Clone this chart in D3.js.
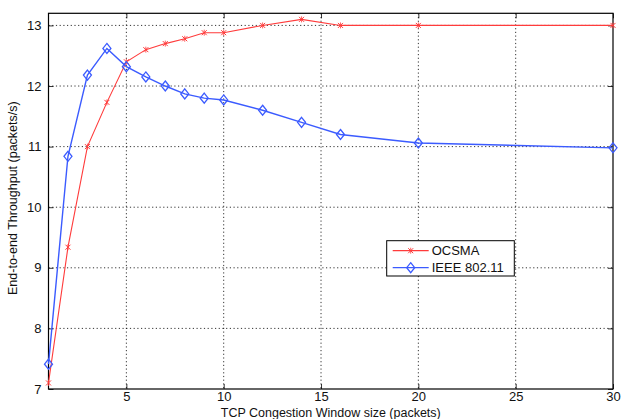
<!DOCTYPE html>
<html>
<head>
<meta charset="utf-8">
<script src="https://cdn.jsdelivr.net/npm/d3@7"></script>
<style>
  body { margin: 0; background: #fff; }
  text { font-family: "Liberation Sans", Arial, sans-serif; }
  .grid line { stroke: #000; stroke-width: 0.8; stroke-dasharray: 1.2 2.5; }
</style>
</head>
<body>
<div id="chart"></div>
<script>
// window sizes and throughput values
const windowSizes = [1, 2, 3, 4, 5, 6, 7, 8, 9, 10, 12, 14, 16, 20, 30];
const ocsma   = [7.1, 9.34, 11.0, 11.73, 12.4, 12.6, 12.7, 12.78, 12.88, 12.88, 13.0, 13.1, 13.0, 13.0, 13.0];
const ieee    = [7.41, 10.84, 12.18, 12.62, 12.32, 12.15, 12.0, 11.87, 11.8, 11.77, 11.6, 11.4, 11.2, 11.06, 10.98];
const xTicks  = [5, 10, 15, 20, 25, 30];
const yTicks  = [7, 8, 9, 10, 11, 12, 13];
const seriesNames  = ["OCSMA", "IEEE 802.11"];
const seriesColors = ["#ff3b3b", "#3b5bff"];

const W = 622, H = 419;
const MARGIN = { LEFT: 48.5, RIGHT: 9, TOP: 13.3, BOTTOM: 30 };
const PW = W - MARGIN.LEFT - MARGIN.RIGHT, PH = H - MARGIN.TOP - MARGIN.BOTTOM;

const svg = d3.select("#chart").append("svg")
  .attr("width", W).attr("height", H);
const g = svg.append("g")
  .attr("transform", `translate(${MARGIN.LEFT},${MARGIN.TOP})`);

const x = d3.scaleLinear().domain([1, 30]).range([0, PW]);
const y = d3.scaleLinear().domain([7, 13.2]).range([PH, 0]);

// grid
const grid = g.append("g").attr("class", "grid");
grid.selectAll(".gx").data(xTicks.filter(t => t < 30)).enter().append("line")
  .attr("x1", d => x(d)).attr("x2", d => x(d)).attr("y1", 0).attr("y2", PH);
grid.selectAll(".gy").data(yTicks.filter(t => t > 7)).enter().append("line")
  .attr("y1", d => y(d)).attr("y2", d => y(d)).attr("x1", 0).attr("x2", PW);

// axes, ticks pointing inward
const tick = 5;
const xAxis = g.append("g").attr("transform", `translate(0,${PH})`)
  .call(d3.axisBottom(x).tickValues(xTicks).tickFormat(d3.format("d"))
    .tickSizeInner(-tick).tickSizeOuter(0).tickPadding(3));
const yAxis = g.append("g")
  .call(d3.axisLeft(y).tickValues(yTicks).tickFormat(d3.format("d"))
    .tickSizeInner(-tick).tickSizeOuter(0).tickPadding(7));
g.append("g")
  .call(d3.axisTop(x).tickValues(xTicks).tickSizeInner(-tick).tickSizeOuter(0).tickFormat(""));
g.append("g").attr("transform", `translate(${PW},0)`)
  .call(d3.axisRight(y).tickValues(yTicks).tickSizeInner(-tick).tickSizeOuter(0).tickFormat(""));
g.selectAll(".domain").remove();
g.selectAll(".tick line").attr("stroke", "#000").attr("stroke-width", 0.8);
[xAxis, yAxis].forEach(a => a.selectAll("text").attr("font-size", 13).attr("fill", "#111")
  .style("font-family", "'Liberation Sans', Arial, sans-serif"));

g.append("rect").attr("width", PW).attr("height", PH)
  .attr("fill", "none").attr("stroke", "#000").attr("stroke-width", 1.2);

// lines
const line = d3.line().x(d => x(d[0])).y(d => y(d[1]));
const series = [ocsma, ieee].map((vals, i) => ({
  name: seriesNames[i], color: seriesColors[i],
  pts: windowSizes.map((w, j) => [w, vals[j]])
}));

series.forEach((s, i) => {
  g.append("path").datum(s.pts).attr("d", line)
    .attr("fill", "none").attr("stroke", s.color).attr("stroke-width", i === 1 ? 1.4 : 1.1);
  const m = g.append("g").selectAll("g").data(s.pts).enter().append("g")
    .attr("transform", d => `translate(${x(d[0])},${y(d[1])})`);
  drawMarker(m, i, s.color);
});

function drawMarker(sel, i, color) {
  if (i === 0) {
    sel.append("path").attr("d", "M-2.5,-2.5L2.5,2.5M-2.5,2.5L2.5,-2.5")
      .attr("stroke", color).attr("stroke-width", 1);
    sel.append("path").attr("d", "M0,-3L0,3").attr("stroke", color).attr("stroke-width", 0.8);
  } else {
    sel.append("path").attr("d", "M0,-5L4,0L0,5L-4,0Z")
      .attr("fill", "none").attr("stroke", color).attr("stroke-width", 1.3);
  }
}

// legend
const lx = 386.7 - MARGIN.LEFT, ly = 240.7 - MARGIN.TOP;
const leg = g.append("g").attr("transform", `translate(${lx},${ly})`);
leg.append("rect").attr("width", 127.6).attr("height", 35.3)
  .attr("fill", "#fff").attr("stroke", "#000").attr("stroke-width", 1);
series.forEach((s, i) => {
  const yy = 10 + i * 17;
  leg.append("line").attr("x1", 6).attr("x2", 42).attr("y1", yy).attr("y2", yy)
    .attr("stroke", s.color).attr("stroke-width", 1.2);
  const m = leg.append("g").attr("transform", `translate(24,${yy})`);
  drawMarker(m, i, s.color);
  leg.append("text").attr("x", 45).attr("y", yy).attr("dy", "0.36em")
    .attr("font-size", 13).attr("fill", "#111").text(s.name);
});

// axis titles
svg.append("text").attr("x", MARGIN.LEFT + PW / 2 - 0).attr("y", 417)
  .attr("text-anchor", "middle").attr("font-size", 12.5).attr("fill", "#111")
  .text("TCP Congestion Window size (packets)");
svg.append("text").attr("transform", `translate(17,${MARGIN.TOP + PH / 2 - 3}) rotate(-90)`)
  .attr("text-anchor", "middle").attr("font-size", 12.5).attr("fill", "#111")
  .text("End-to-end Throughput (packets/s)");
</script>
</body>
</html>
